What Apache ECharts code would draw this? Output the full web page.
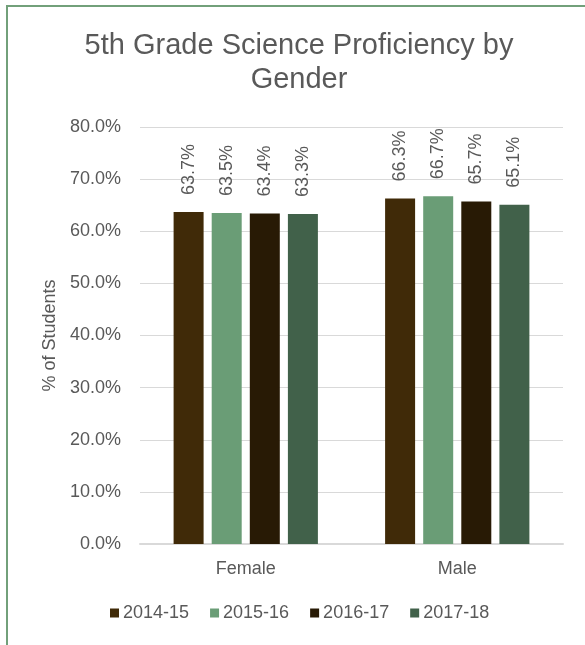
<!DOCTYPE html>
<html>
<head>
<meta charset="utf-8">
<script src="https://cdn.jsdelivr.net/npm/echarts@6/dist/echarts.min.js"></script>
<style>
  html, body { margin: 0; padding: 0; background: #fff; overflow: hidden; }
  #frame { position: absolute; left: 6px; top: 5px; width: 700px; height: 800px;
           border-left: 2px solid #72a07a; border-top: 2px solid #72a07a; }
  #chart { position: absolute; left: 0; top: 0; width: 585px; height: 645px; }
</style>
</head>
<body>
<div id="frame"></div>
<div id="chart"></div>
<script>
const categories = ['Female', 'Male'];
const seriesNames = ['2014-15', '2015-16', '2016-17', '2017-18'];
const values2014 = [63.7, 66.3];
const values2015 = [63.5, 66.7];
const values2016 = [63.4, 65.7];
const values2017 = [63.3, 65.1];
const yTicks = [0, 10, 20, 30, 40, 50, 60, 70, 80];

const colors = ['#402a08', '#6a9d76', '#281a05', '#41614a'];
const font = 'Liberation Sans, Arial, sans-serif';
const textColor = '#595959';

const chart = echarts.init(document.getElementById('chart'));

const makeSeries = (name, data, i) => ({
  name: name,
  type: 'bar',
  data: data,
  barWidth: 30,
  barGap: '27%',
  itemStyle: { color: colors[i] },
  label: {
    show: true,
    position: 'top',
    rotate: 90,
    align: 'left',
    verticalAlign: 'middle',
    distance: 17,
    fontSize: 18,
    fontFamily: font,
    color: textColor,
    formatter: p => p.value.toFixed(1) + '%'
  }
});

const option = {
  animation: false,
  title: {
    text: '5th Grade Science Proficiency by\nGender',
    left: 299,
    top: 29,
    padding: 0,
    textAlign: 'center',
    textStyle: {
      fontSize: 29,
      fontWeight: 'normal',
      fontFamily: font,
      color: textColor,
      lineHeight: 34
    }
  },
  legend: {
    data: seriesNames,
    left: 110,
    top: 604,
    padding: 0,
    icon: 'rect',
    itemWidth: 9,
    itemHeight: 9,
    itemGap: 21,
    textStyle: { fontSize: 18, fontFamily: font, color: textColor, padding: [0, 0, 0, -1] }
  },
  grid: {
    left: 140,
    right: 22,
    top: 127,
    bottom: 101,
    containLabel: false
  },
  xAxis: {
    type: 'category',
    data: categories,
    axisTick: { show: false },
    axisLine: { lineStyle: { color: '#d9d9d9', width: 2 } },
    axisLabel: { fontSize: 18, fontFamily: font, color: textColor, margin: 16 }
  },
  yAxis: {
    type: 'value',
    min: yTicks[0],
    max: yTicks[yTicks.length - 1],
    interval: yTicks[1] - yTicks[0],
    name: '% of Students',
    nameLocation: 'middle',
    nameGap: 76,
    nameTextStyle: { fontSize: 18, fontFamily: font, color: textColor },
    axisLine: { show: false },
    axisTick: { show: false },
    splitLine: { lineStyle: { color: '#d9d9d9', width: 1 } },
    axisLabel: {
      fontSize: 18, fontFamily: font, color: textColor, margin: 19,
      formatter: v => v.toFixed(1) + '%'
    }
  },
  series: [
    makeSeries(seriesNames[0], values2014, 0),
    makeSeries(seriesNames[1], values2015, 1),
    makeSeries(seriesNames[2], values2016, 2),
    makeSeries(seriesNames[3], values2017, 3)
  ]
};

chart.setOption(option);
</script>
</body>
</html>
